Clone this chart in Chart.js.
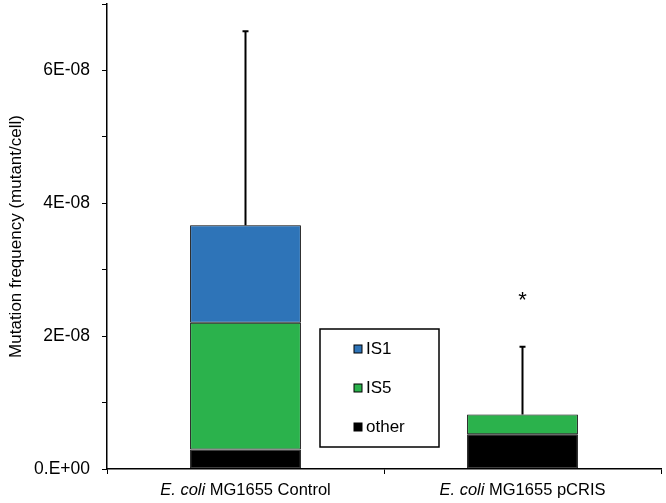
<!DOCTYPE html>
<html>
<head>
<meta charset="utf-8">
<script src="https://cdn.jsdelivr.net/npm/chart.js@4.4.0/dist/chart.umd.min.js"></script>
<style>
  html, body { margin: 0; padding: 0; background: #fff; }
  #wrap { width: 666px; height: 503px; }
</style>
</head>
<body>
<div id="wrap"><canvas id="myChart"></canvas></div>
<script>
// data
var categories = ['E. coli MG1655 Control', 'E. coli MG1655 pCRIS'];
var otherVals = [2.95e-9, 5.25e-9];
var is5Vals = [1.905e-8, 2.95e-9];
var is1Vals = [1.47e-8, 0];
var errVals = [2.92e-8, 1.02e-8];
var marks = ['', '*'];
var yTicks = [0, 1e-8, 2e-8, 3e-8, 4e-8, 5e-8, 6e-8, 7e-8];

var font = 'Liberation Sans, Arial, sans-serif';

function fmtTick(v) {
    if (v === 0) return '0.E+00';
    var n = Math.round(v / 1e-8);
    if (n % 2 === 1 || n === 7) return '';
    return n * 1 + 'E-08';
}

var extras = {
    id: 'extras',
    afterDatasetsDraw: function(chart) {
        var ctx = chart.ctx;
        var y = chart.scales.y, x = chart.scales.x;
        ctx.save();
        // error bars
        ctx.strokeStyle = '#000';
        ctx.lineWidth = 2;
        for (var i = 0; i < categories.length; i++) {
            var top = otherVals[i] + is5Vals[i] + is1Vals[i];
            var cx = x.getPixelForValue(i);
            var y0 = y.getPixelForValue(top);
            var y1 = y.getPixelForValue(top + errVals[i]);
            ctx.beginPath();
            ctx.moveTo(cx, y0);
            ctx.lineTo(cx, y1);
            ctx.moveTo(cx - 3, y1);
            ctx.lineTo(cx + 3, y1);
            ctx.stroke();
            if (marks[i]) {
                ctx.fillStyle = '#000';
                ctx.font = '22px ' + font;
                ctx.textAlign = 'center';
                ctx.textBaseline = 'middle';
                ctx.fillText(marks[i], cx, y1 - 46);
            }
        }
        // category labels with italic species name
        ctx.fillStyle = '#000';
        ctx.textBaseline = 'middle';
        ctx.textAlign = 'left';
        for (var j = 0; j < categories.length; j++) {
            var lab = categories[j];
            var it = 'E. coli';
            var rest = lab.slice(it.length);
            ctx.font = 'italic 16.5px ' + font;
            var w1 = ctx.measureText(it).width;
            ctx.font = '16.5px ' + font;
            var w2 = ctx.measureText(rest).width;
            var sx = x.getPixelForValue(j) - (w1 + w2) / 2;
            ctx.font = 'italic 16.5px ' + font;
            ctx.fillText(it, sx, 490);
            ctx.font = '16.5px ' + font;
            ctx.fillText(rest, sx + w1, 490);
        }
        // legend box
        ctx.lineWidth = 1.5;
        ctx.strokeStyle = '#000';
        ctx.fillStyle = '#fff';
        ctx.fillRect(320, 329, 119, 118);
        ctx.strokeRect(320, 329, 119, 118);
        var ds = chart.data.datasets.slice().reverse();
        ctx.font = '17px ' + font;
        for (var k = 0; k < ds.length; k++) {
            var ly = 349 + k * 39;
            ctx.fillStyle = ds[k].backgroundColor;
            ctx.fillRect(354, ly - 4, 8, 8);
            ctx.lineWidth = 1;
            ctx.strokeRect(354, ly - 4, 8, 8);
            ctx.fillStyle = '#000';
            ctx.fillText(ds[k].label, 366, ly);
        }
        ctx.restore();
    }
};

var ctx = document.getElementById('myChart').getContext('2d');
var chart = new Chart(ctx, {
    type: 'bar',
    data: {
        labels: categories,
        datasets: [{
            label: 'other',
            data: otherVals,
            backgroundColor: '#000000',
            borderColor: '#000',
            borderWidth: 1,
            borderSkipped: false
        }, {
            label: 'IS5',
            data: is5Vals,
            backgroundColor: '#2bb24c',
            borderColor: '#000',
            borderWidth: 1,
            borderSkipped: false
        }, {
            label: 'IS1',
            data: is1Vals,
            backgroundColor: '#2e74b8',
            borderColor: '#000',
            borderWidth: 1,
            borderSkipped: false
        }]
    },
    options: {
        responsive: true,
        maintainAspectRatio: false,
        animation: false,
        layout: { padding: { top: 4, right: 5, left: 0, bottom: 0 } },
        plugins: { legend: { display: false }, tooltip: { enabled: false } },
        datasets: { bar: { barPercentage: 0.4, categoryPercentage: 1.0 } },
        scales: {
            x: {
                stacked: true,
                grid: { drawOnChartArea: false, drawTicks: true, tickLength: 5, color: '#000', offset: true },
                border: { display: true, color: '#000', width: 1.5 },
                ticks: { color: 'rgba(0,0,0,0)', font: { family: font, size: 15 } },
                afterFit: function(s) { s.height = 34; s.paddingLeft = 0; s.paddingRight = 0; }
            },
            y: {
                stacked: true,
                min: 0,
                max: 7e-8,
                afterBuildTicks: function(s) {
                    s.ticks = yTicks.map(function(v) { return { value: v }; });
                },
                grid: { drawOnChartArea: false, drawTicks: true, tickLength: 5, color: '#000' },
                border: { display: true, color: '#000', width: 1.5 },
                ticks: {
                    color: '#000',
                    padding: 12,
                    font: { family: font, size: 17.5 },
                    callback: function(v) { return fmtTick(v); }
                },
                title: {
                    display: true,
                    text: 'Mutation frequency (mutant/cell)',
                    color: '#000',
                    font: { family: font, size: 17 },
                    padding: { top: 6, bottom: 0 }
                },
                afterFit: function(s) { s.width = 107; s.paddingTop = 0; s.paddingBottom = 0; }
            }
        }
    },
    plugins: [extras]
});
</script>
</body>
</html>
